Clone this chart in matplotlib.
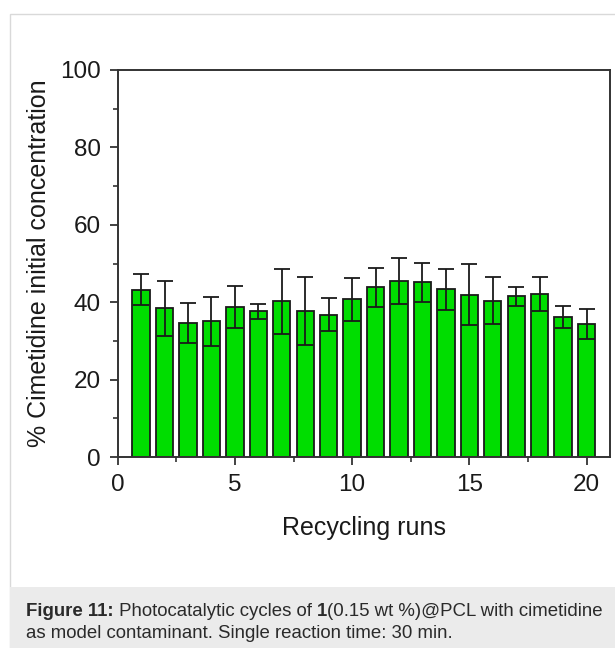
import matplotlib
matplotlib.use("Agg")
import matplotlib.pyplot as plt
from matplotlib.patches import Rectangle
from matplotlib.ticker import MultipleLocator

runs = list(range(1, 21))
values = [43.2, 38.4, 34.6, 35.1, 38.8, 37.6, 40.3, 37.7, 36.8, 40.7,
          43.8, 45.5, 45.1, 43.3, 41.9, 40.4, 41.5, 42.1, 36.2, 34.3]
errors = [4.0, 7.1, 5.1, 6.3, 5.5, 2.0, 8.4, 8.8, 4.2, 5.5,
          5.0, 5.9, 5.0, 5.4, 7.9, 6.0, 2.4, 4.5, 2.9, 3.9]
xlabel = "Recycling runs"
ylabel = "% Cimetidine initial concentration"

plt.rcParams['font.family'] = ['Liberation Sans', 'DejaVu Sans']

W, H = 615, 648
fig = plt.figure(figsize=(W / 100, H / 100), dpi=100)
fig.patch.set_facecolor('white')

# outer frame and caption background
fig.patches.append(Rectangle((10 / W, 0), 1.2, 1 - 14 / H, transform=fig.transFigure,
                             facecolor='none', edgecolor='#d9d9d9', linewidth=1.0, zorder=0))
fig.patches.append(Rectangle((10 / W, 0), 1.2, (H - 587) / H, transform=fig.transFigure,
                             facecolor='#ebebeb', edgecolor='none', zorder=0))

ax = fig.add_axes([117.7 / W, 1 - 457 / H, (610 - 117.7) / W, (457 - 70) / H])
ax.bar(runs, values, width=0.74, color='#00dd00', edgecolor='#1a1a1a', linewidth=1.3,
       yerr=errors, error_kw=dict(ecolor='#1a1a1a', elinewidth=1.3, capsize=5.5, capthick=1.3))
ax.set_xlim(0, 21)
ax.set_ylim(0, 100)
ax.xaxis.set_major_locator(MultipleLocator(5))
ax.xaxis.set_minor_locator(MultipleLocator(2.5))
ax.yaxis.set_major_locator(MultipleLocator(20))
ax.yaxis.set_minor_locator(MultipleLocator(10))
for s in ax.spines.values():
    s.set_color('#333333')
    s.set_linewidth(1.4)
ax.tick_params(which='major', direction='out', length=6, width=1.3, color='#333333',
               labelsize=17.5, labelcolor='#1a1a1a', pad=6)
ax.tick_params(which='minor', direction='out', length=3.5, width=1.2, color='#333333')
ax.set_xlabel(xlabel, fontsize=18, color='#1a1a1a', labelpad=15)
ax.set_ylabel(ylabel, fontsize=18, color='#1a1a1a', labelpad=7)

# caption
cap_color = '#2a2a2a'
fs = 13.4
x0 = 26 / W
pieces = [("Figure 11:", 'bold'), (" Photocatalytic cycles of ", 'normal'), ("1", 'bold'),
          ("(0.15 wt %)@PCL with cimetidine", 'normal')]
fig.canvas.draw()
r = fig.canvas.get_renderer()
x = x0
for txt, wt in pieces:
    t = fig.text(x, 1 - 611 / H, txt, fontsize=fs, fontweight=wt, color=cap_color,
                 va='center', ha='left')
    bb = t.get_window_extent(renderer=r)
    x = bb.x1 / W
fig.text(x0, 1 - 634 / H, "as model contaminant. Single reaction time: 30 min.",
         fontsize=fs, color=cap_color, va='center', ha='left')

fig.savefig("out.png", dpi=100, facecolor=fig.get_facecolor())
